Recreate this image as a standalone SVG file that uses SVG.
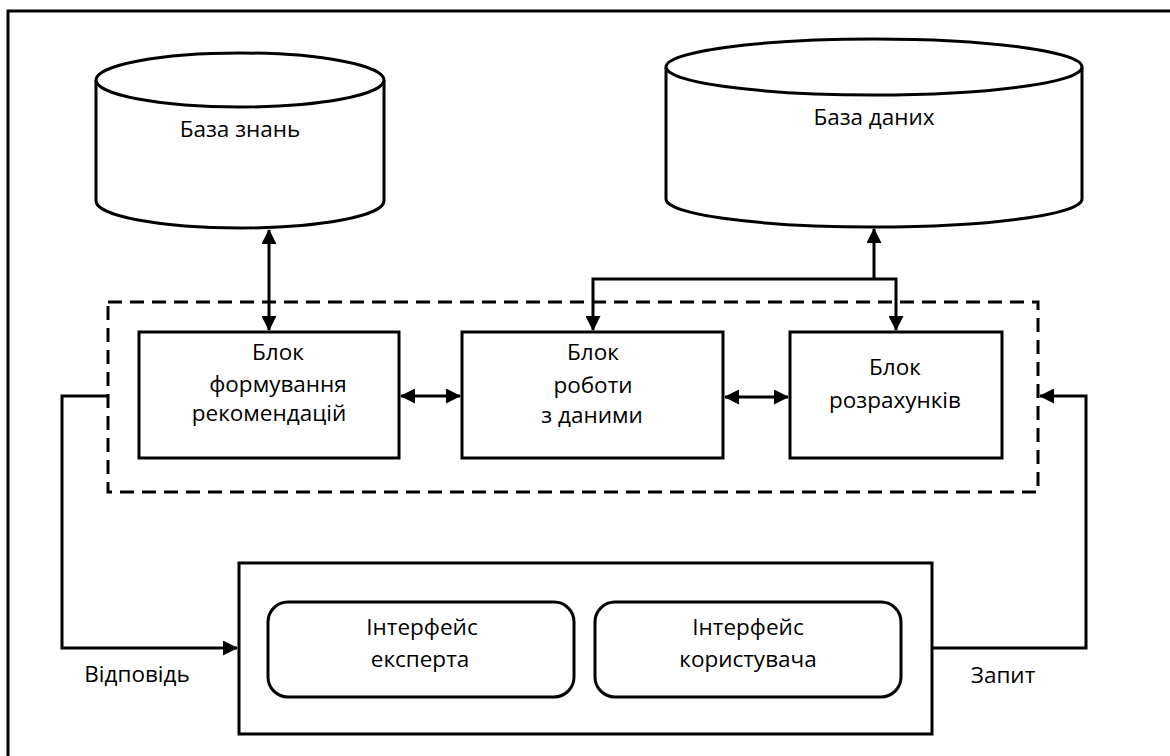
<svg xmlns="http://www.w3.org/2000/svg" width="1170" height="756" viewBox="0 0 1170 756">
  <style>
    .shape { fill: #ffffff; stroke: #000000; stroke-width: 3; }
    .line { fill: none; stroke: #000000; stroke-width: 3; }
    .dash { fill: none; stroke: #000000; stroke-width: 3; stroke-dasharray: 14 8; }
    text { font-family: "Open Sans", Lato, sans-serif; font-size: 22.5px; fill: #000000; text-anchor: middle; }
  </style>
  <defs>
    <marker id="arrow" viewBox="0 0 15 15" refX="14" refY="7.5" markerWidth="15" markerHeight="15" markerUnits="userSpaceOnUse" orient="auto-start-reverse">
      <path d="M0,0 L15,7.5 L0,15 Z" fill="#000000"/>
    </marker>
  </defs>
  <rect width="1170" height="756" fill="#ffffff"/>

  <!-- outer frame -->
  <path class="line" d="M8,760 V11 H1175"/>

  <!-- knowledge base cylinder -->
  <g id="kb">
    <path class="shape" d="M96,80 V201 A144,27 0 0 0 384,201 V80"/>
    <ellipse class="shape" cx="240" cy="80" rx="144" ry="27"/>
    <text x="240" y="137">База знань</text>
  </g>

  <!-- database cylinder -->
  <g id="db">
    <path class="shape" d="M666,67 V199 A208,28 0 0 0 1082,199 V67"/>
    <ellipse class="shape" cx="874" cy="67" rx="208" ry="28"/>
    <text x="874" y="125">База даних</text>
  </g>

  <!-- processing subsystem boundary -->
  <g id="core">
    <rect class="dash" x="108" y="302" width="930" height="190"/>
  </g>

  <g id="recommend">
    <rect class="shape" x="139" y="332" width="260" height="126"/>
    <text x="278" y="360">Блок</text>
    <text x="278" y="392">формування</text>
    <text x="269" y="421">рекомендацій</text>
  </g>

  <g id="datawork">
    <rect class="shape" x="462" y="332" width="261" height="126"/>
    <text x="593" y="360">Блок</text>
    <text x="593" y="393">роботи</text>
    <text x="592" y="423">з даними</text>
  </g>

  <g id="calc">
    <rect class="shape" x="790" y="332" width="212" height="126"/>
    <text x="895" y="375">Блок</text>
    <text x="895" y="408">розрахунків</text>
  </g>

  <!-- user interfaces -->
  <g id="ui">
    <rect class="shape" x="239" y="563" width="693" height="171"/>
  </g>
  <g id="ui-expert">
    <rect class="shape" x="268" y="602" width="306" height="95" rx="20" ry="20"/>
    <text x="422" y="635">Інтерфейс</text>
    <text x="420" y="667">експерта</text>
  </g>
  <g id="ui-user">
    <rect class="shape" x="595" y="602" width="306" height="95" rx="20" ry="20"/>
    <text x="748" y="635">Інтерфейс</text>
    <text x="748" y="667">користувача</text>
  </g>

  <!-- connectors -->
  <g id="connectors">
    <path class="line" d="M269,230 V330" marker-start="url(#arrow)" marker-end="url(#arrow)"/>
    <path class="line" d="M401,396 H460" marker-start="url(#arrow)" marker-end="url(#arrow)"/>
    <path class="line" d="M725,397 H788" marker-start="url(#arrow)" marker-end="url(#arrow)"/>
    <path class="line" d="M593,330 V279 H896 V330" marker-start="url(#arrow)" marker-end="url(#arrow)"/>
    <path class="line" d="M874,279 V229" marker-end="url(#arrow)"/>
    <path class="line" d="M108,396 H62 V648 H237" marker-end="url(#arrow)"/>
    <path class="line" d="M932,648 H1086 V396 H1040" marker-end="url(#arrow)"/>
    <text x="137" y="682">Відповідь</text>
    <text x="1003" y="683">Запит</text>
  </g>
</svg>
